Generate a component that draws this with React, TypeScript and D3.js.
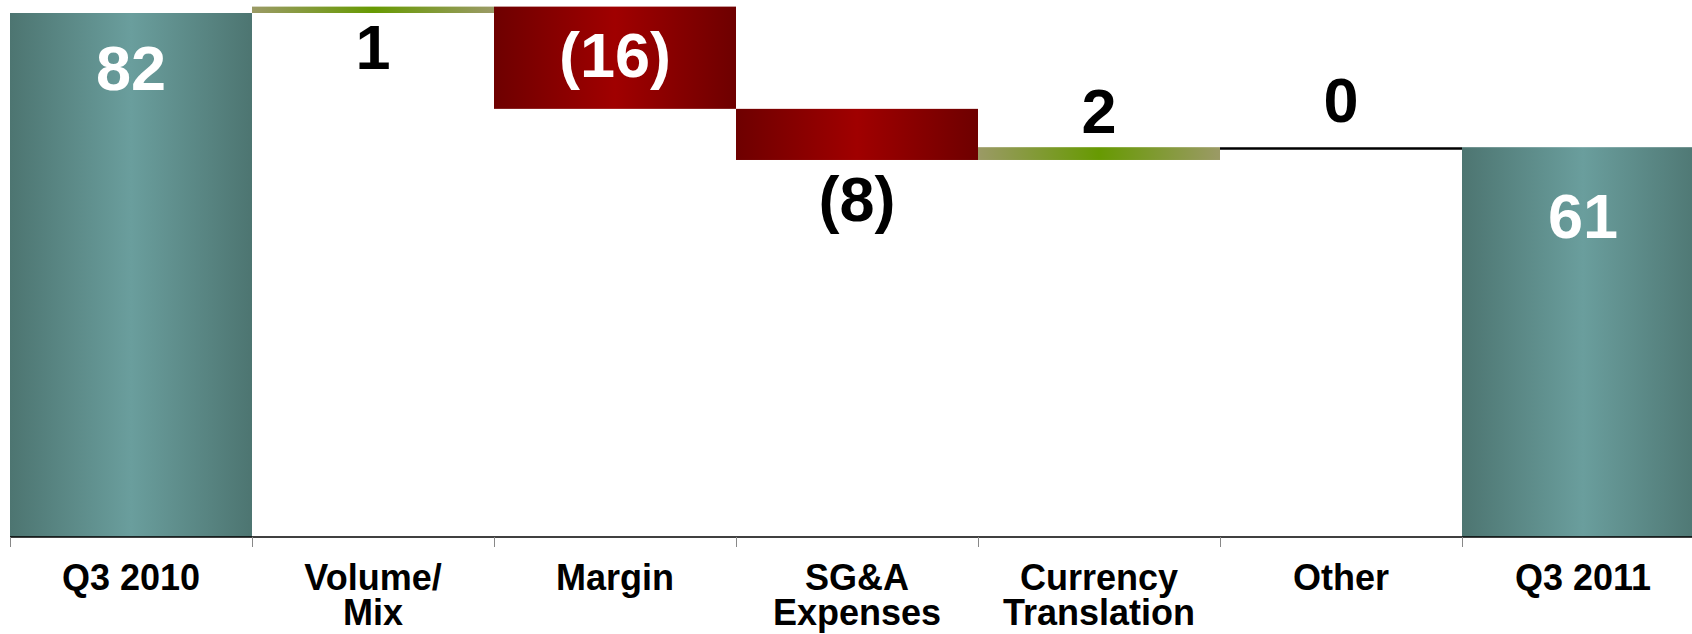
import React from "react";
import * as d3 from "d3";

// Bridge from Q3 2010 to Q3 2011
const categories: string[][] = [
  ["Q3 2010"],
  ["Volume/", "Mix"],
  ["Margin"],
  ["SG&A", "Expenses"],
  ["Currency", "Translation"],
  ["Other"],
  ["Q3 2011"],
];
const values: number[] = [82, 1, -16, -8, 2, 0, 61];
const isTotal: boolean[] = [true, false, false, false, false, false, true];
const valueLabels: string[] = ["82", "1", "(16)", "(8)", "2", "0", "61"];

const W = 1692;
const H = 634;
const margin = { left: 10, top: 13, baseline: 537 };
const band = 242;

// Where each value label sits relative to its bar (offset to the text baseline)
type Place = { edge: "top" | "bottom" | "middle"; dy: number; fill: string };
const labelPlace: Place[] = [
  { edge: "top", dy: 77, fill: "#ffffff" },
  { edge: "bottom", dy: 56, fill: "#000000" },
  { edge: "middle", dy: 19, fill: "#ffffff" },
  { edge: "bottom", dy: 61, fill: "#000000" },
  { edge: "top", dy: -14, fill: "#000000" },
  { edge: "top", dy: -25, fill: "#000000" },
  { edge: "top", dy: 91, fill: "#ffffff" },
];

const FONT = "'Liberation Sans', Arial, sans-serif";

export default function App() {
  const keys = categories.map((c) => c.join(" "));
  const x = d3
    .scaleBand<string>()
    .domain(keys)
    .range([margin.left, margin.left + band * keys.length])
    .padding(0);
  const y = d3
    .scaleLinear()
    .domain([0, 82])
    .range([margin.baseline, margin.top]);

  // running totals for the floating steps
  let running = 0;
  const bars = values.map((v, i) => {
    let start: number, end: number;
    if (isTotal[i]) {
      start = 0;
      end = v;
      running = v;
    } else {
      start = running;
      end = running + v;
      running = end;
    }
    return { i, key: keys[i], v, start, end, total: isTotal[i] };
  });

  const gradFor = (b: { v: number; total: boolean }) =>
    b.total ? "url(#gTotal)" : b.v < 0 ? "url(#gDown)" : "url(#gUp)";

  return (
    <svg
      width={W}
      height={H}
      style={{ position: "absolute", left: 0, top: 0, display: "block", background: "#fff" }}
    >
      <defs>
        <linearGradient id="gTotal" x1="0" x2="1" y1="0" y2="0">
          <stop offset="0" stopColor="#4d7571" />
          <stop offset="0.5" stopColor="#6a9e9d" />
          <stop offset="1" stopColor="#4d7571" />
        </linearGradient>
        <linearGradient id="gDown" x1="0" x2="1" y1="0" y2="0">
          <stop offset="0" stopColor="#6e0000" />
          <stop offset="0.5" stopColor="#a00000" />
          <stop offset="1" stopColor="#6e0000" />
        </linearGradient>
        <linearGradient id="gUp" x1="0" x2="1" y1="0" y2="0">
          <stop offset="0" stopColor="#9b9a66" />
          <stop offset="0.5" stopColor="#679a02" />
          <stop offset="1" stopColor="#9b9a66" />
        </linearGradient>
      </defs>

      {bars.map((b) => {
        const x0 = x(b.key)!;
        const w = x.bandwidth();
        if (b.v === 0 && !b.total) {
          const yy = y(b.end) + 1.3;
          return (
            <line key={b.key} x1={x0} x2={x0 + w} y1={yy} y2={yy} stroke="#000" strokeWidth={2.6} />
          );
        }
        const yTop = y(Math.max(b.start, b.end));
        const yBot = y(Math.min(b.start, b.end));
        return (
          <rect key={b.key} x={x0} y={yTop} width={w} height={yBot - yTop} fill={gradFor(b)} />
        );
      })}

      {/* category axis */}
      <line x1={margin.left} x2={W} y1={margin.baseline} y2={margin.baseline} stroke="#000" strokeWidth={1.6} />
      {keys.map((k) => (
        <line
          key={"t" + k}
          x1={x(k)! + 0.5}
          x2={x(k)! + 0.5}
          y1={margin.baseline}
          y2={margin.baseline + 10}
          stroke="#888"
          strokeWidth={1}
        />
      ))}
      {categories.map((lines, i) => (
        <text
          key={"c" + i}
          x={x(keys[i])! + x.bandwidth() / 2}
          y={590}
          textAnchor="middle"
          fontFamily={FONT}
          fontWeight="bold"
          fontSize={36}
          fill="#000"
        >
          {lines.map((ln, j) => (
            <tspan key={j} x={x(keys[i])! + x.bandwidth() / 2} dy={j === 0 ? 0 : 35}>
              {ln}
            </tspan>
          ))}
        </text>
      ))}

      {/* value labels */}
      {bars.map((b, i) => {
        const p = labelPlace[i];
        const yTop = y(Math.max(b.start, b.end));
        const yBot = y(Math.min(b.start, b.end));
        const ref = p.edge === "top" ? yTop : p.edge === "bottom" ? yBot : (yTop + yBot) / 2;
        return (
          <text
            key={"v" + i}
            x={x(b.key)! + x.bandwidth() / 2}
            y={ref + p.dy}
            textAnchor="middle"
            fontFamily={FONT}
            fontWeight="bold"
            fontSize={63}
            fill={p.fill}
          >
            {valueLabels[i]}
          </text>
        );
      })}
    </svg>
  );
}
